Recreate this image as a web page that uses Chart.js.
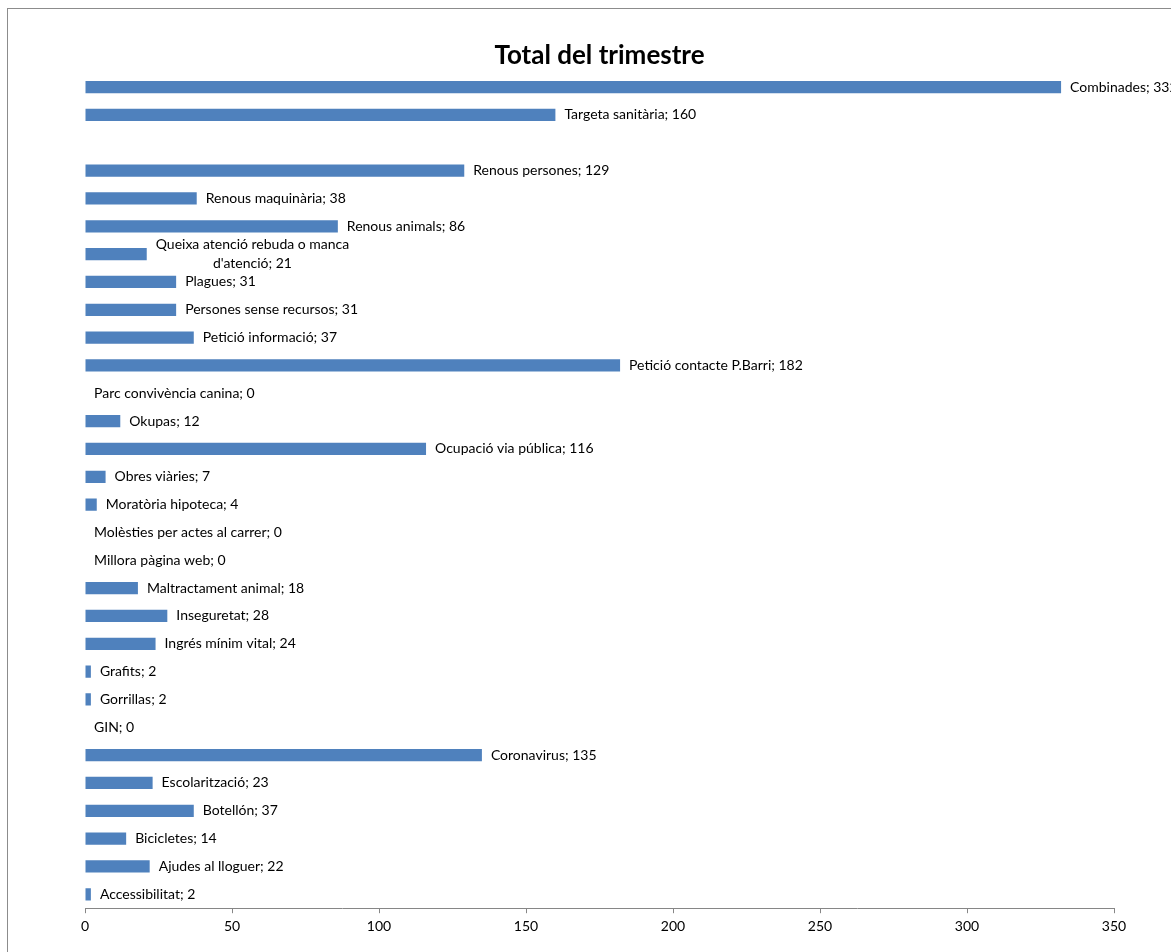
<!DOCTYPE html>
<html>
<head>
<meta charset="utf-8">
<script src="https://cdn.jsdelivr.net/npm/chart.js@4.4.1/dist/chart.umd.min.js"></script>
<style>
  html, body { margin: 0; padding: 0; background: #fff; overflow: hidden; }
  #wrap { position: relative; width: 1171px; height: 952px; }
</style>
</head>
<body>
<div id="wrap"><canvas id="chart" width="1171" height="952"></canvas></div>
<script>
// categories, top to bottom (the blank one is an empty row in the original)
const categories = [
  "Combinades", "Targeta sanitària", "", "Renous persones", "Renous maquinària",
  "Renous animals", "Queixa atenció rebuda o manca d'atenció", "Plagues",
  "Persones sense recursos", "Petició informació", "Petició contacte P.Barri",
  "Parc convivència canina", "Okupas", "Ocupació via pública", "Obres viàries",
  "Moratòria hipoteca", "Molèsties per actes al carrer", "Millora pàgina web",
  "Maltractament animal", "Inseguretat", "Ingrés mínim vital", "Grafits",
  "Gorrillas", "GIN", "Coronavirus", "Escolarització", "Botellón", "Bicicletes",
  "Ajudes al lloguer", "Accessibilitat"
];
const totals = [
  332, 160, null, 129, 38, 86, 21, 31, 31, 37, 182, 0, 12, 116, 7, 4, 0, 0,
  18, 28, 24, 2, 2, 0, 135, 23, 37, 14, 22, 2
];
const xTicks = [0, 50, 100, 150, 200, 250, 300, 350];

const FONT = "Lato, 'Open Sans', sans-serif";

// outer frame like the spreadsheet chart box
const framePlugin = {
  id: "frame",
  beforeDraw(chart) {
    const ctx = chart.ctx;
    ctx.save();
    ctx.fillStyle = "#fff";
    ctx.fillRect(0, 0, chart.width, chart.height);
    ctx.strokeStyle = "#8c8c8c";
    ctx.lineWidth = 1;
    ctx.strokeRect(7.5, 8.5, chart.width + 20, chart.height + 20);
    ctx.restore();
  }
};

// wrap text greedily to a max width
function wrapText(ctx, text, maxW) {
  const words = text.split(" ");
  const lines = [];
  let cur = "";
  words.forEach((w) => {
    const test = cur ? cur + " " + w : w;
    if (ctx.measureText(test).width > maxW && cur) {
      lines.push(cur);
      cur = w;
    } else {
      cur = test;
    }
  });
  if (cur) lines.push(cur);
  return lines;
}

// "Name; value" labels next to each bar end
const labelPlugin = {
  id: "barLabels",
  afterDatasetsDraw(chart) {
    const ctx = chart.ctx;
    const meta = chart.getDatasetMeta(0);
    ctx.save();
    ctx.font = "14px " + FONT;
    ctx.fillStyle = "#000";
    ctx.textBaseline = "middle";
    meta.data.forEach((bar, i) => {
      const v = totals[i];
      if (v === null || !categories[i]) return;
      const text = categories[i] + "; " + v;
      const lines = wrapText(ctx, text, 215);
      const x0 = bar.x + 9;
      if (lines.length === 1) {
        ctx.textAlign = "left";
        ctx.fillText(text, x0, bar.y);
      } else {
        const w = Math.max(...lines.map((l) => ctx.measureText(l).width));
        const lh = 19;
        const top = bar.y - (lh * (lines.length - 1)) / 2;
        ctx.textAlign = "center";
        lines.forEach((l, k) => ctx.fillText(l, x0 + w / 2, top + k * lh));
      }
    });
    ctx.restore();
  }
};

new Chart(document.getElementById("chart"), {
  type: "bar",
  data: {
    labels: categories,
    datasets: [
      {
        data: totals,
        backgroundColor: "#4F81BD",
        borderWidth: 0,
        barPercentage: 0.44,
        categoryPercentage: 1
      }
    ]
  },
  options: {
    indexAxis: "y",
    responsive: false,
    animation: false,
    layout: { padding: { left: 85, right: 57, top: 0, bottom: 12 } },
    plugins: {
      legend: { display: false },
      tooltip: { enabled: false },
      title: {
        display: true,
        text: "Total del trimestre",
        color: "#000",
        font: { family: FONT, size: 26, weight: "bold" },
        padding: { top: 40, bottom: 2 }
      }
    },
    scales: {
      x: {
        min: 0,
        max: 350,
        afterBuildTicks: (axis) => {
          axis.ticks = xTicks.map((v) => ({ value: v }));
        },
        grid: {
          display: true,
          drawOnChartArea: false,
          drawTicks: true,
          tickLength: 5,
          color: "#868686"
        },
        border: { display: true, color: "#868686" },
        ticks: {
          color: "#000",
          padding: 5,
          maxRotation: 0,
          font: { family: FONT, size: 14 }
        }
      },
      y: { display: false }
    }
  },
  plugins: [framePlugin, labelPlugin]
});
</script>
</body>
</html>
